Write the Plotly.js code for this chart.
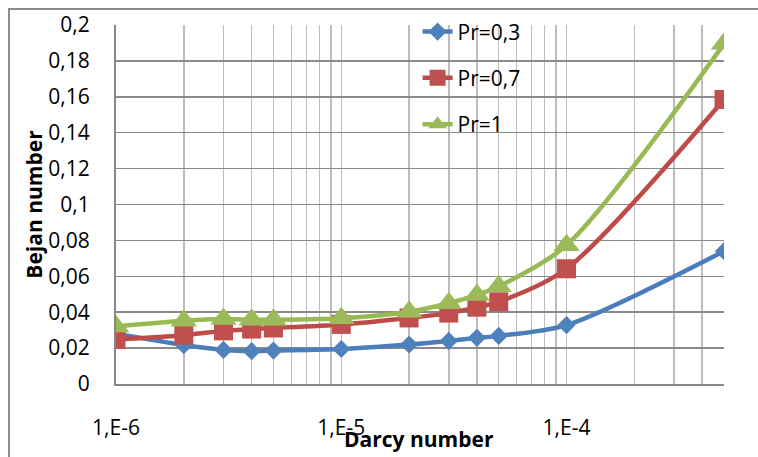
<!DOCTYPE html>
<html>
<head>
<meta charset="utf-8">
<script src="https://cdn.plot.ly/plotly-3.0.1.min.js"></script>
<style>
  html, body { margin: 0; padding: 0; background: #fff; overflow: hidden; }
  #frame { position: absolute; left: 8px; top: 8px; width: 820px; height: 520px; border: 2px solid #8c8c8c; }
  #chart { position: absolute; left: 0; top: 0; width: 758px; height: 457px; }
</style>
</head>
<body>
<div id="frame"></div>
<div id="chart"></div>
<script>
// Darcy numbers (x values)
var darcy = [1e-6, 2e-6, 3e-6, 4e-6, 5e-6, 1e-5, 2e-5, 3e-5, 4e-5, 5e-5, 1e-4, 5e-4];
// Bejan numbers for each Prandtl number
var pr03 = [0.0280, 0.0217, 0.0190, 0.0183, 0.0186, 0.0195, 0.0220, 0.0240, 0.0257, 0.0268, 0.0328, 0.0740];
var pr07 = [0.0248, 0.0272, 0.0296, 0.0306, 0.0312, 0.0332, 0.0368, 0.0395, 0.0428, 0.0458, 0.0642, 0.1585];
var pr1  = [0.0320, 0.0352, 0.0362, 0.0358, 0.0358, 0.0366, 0.0403, 0.0450, 0.0496, 0.0544, 0.0773, 0.1895];
var seriesNames = ['Pr=0,3', 'Pr=0,7', 'Pr=1'];
// x tick labels (decades)
var decadeVals = [1e-6, 1e-5, 1e-4];
var decadeText = ['1,E-6', '1,E-5', '1,E-4'];

// gridline positions: every 1..9 multiple within range
var gridVals = [], gridText = [];
[1e-6, 1e-5, 1e-4].forEach(function (d) {
  for (var m = 1; m <= 9; m++) {
    var v = m * d;
    if (v <= 5.0001e-4) {
      gridVals.push(v);
      var idx = decadeVals.indexOf(d);
      gridText.push(m === 1 ? decadeText[idx] : '');
    }
  }
});

var font = 'Open Sans, Noto Sans, sans-serif';
var traces = [
  { x: darcy, y: pr03, name: seriesNames[0], legendgroup: 'a', mode: 'lines+markers',
    line: { color: '#4A7EBB', width: 4.5, shape: 'spline', smoothing: 0.8 },
    marker: { symbol: 'diamond', size: 14, color: '#4F81BD', line: { width: 0 } } },
  { x: darcy, y: pr07, name: seriesNames[1], legendgroup: 'b', mode: 'lines+markers',
    line: { color: '#BE4B48', width: 4.5, shape: 'spline', smoothing: 0.8 },
    marker: { symbol: 'square', size: 19, color: '#C0504D', line: { width: 0 } } },
  { x: darcy, y: pr1, name: seriesNames[2], legendgroup: 'c', mode: 'lines+markers',
    line: { color: '#98B954', width: 4.5, shape: 'spline', smoothing: 0.8 },
    marker: { symbol: 'triangle-up', size: 23, color: '#9BBB59', line: { width: 0 } } }
];

var layout = {
  width: 758, height: 457,
  margin: { l: 116, r: 34, t: 24, b: 73 },
  paper_bgcolor: 'rgba(0,0,0,0)',
  plot_bgcolor: 'rgba(0,0,0,0)',
  showlegend: true,
  legend: {
    x: 0.496, y: 1.035, xanchor: 'left', yanchor: 'top',
    bgcolor: 'rgba(0,0,0,0)', borderwidth: 0,
    font: { family: font, size: 21, color: '#000' },
    tracegroupgap: 16
  },
  xaxis: {
    type: 'log',
    range: [-6, Math.log10(5e-4)],
    tickvals: gridVals, ticktext: gridText,
    ticks: 'outside', ticklen: 24, tickcolor: 'rgba(0,0,0,0)',
    tickfont: { family: font, size: 21, color: '#000' },
    showgrid: true, gridcolor: '#bdbdbd', gridwidth: 1.5,
    showline: true, linecolor: '#868686', linewidth: 2,
    zeroline: false, automargin: false
  },
  yaxis: {
    range: [0, 0.2], dtick: 0.02, tick0: 0,
    ticks: 'outside', ticklen: 20, tickcolor: 'rgba(0,0,0,0)',
    tickfont: { family: font, size: 21, color: '#000' },
    showgrid: true, gridcolor: '#8a8a8a', gridwidth: 1.5,
    showline: true, linecolor: '#868686', linewidth: 2,
    zeroline: false, automargin: false,
    title: { text: 'Bejan number', font: { family: font, size: 21, color: '#000', weight: 'bold' }, standoff: 0 }
  },
  separators: ', ',
  annotations: [
    { text: '<b>Darcy number</b>', xref: 'paper', yref: 'paper', x: 0.498, y: -0.153,
      xanchor: 'center', yanchor: 'middle', showarrow: false,
      font: { family: font, size: 21, color: '#000' } }
  ]
};

Plotly.newPlot('chart', traces, layout, { displayModeBar: false, staticPlot: true });
</script>
</body>
</html>
